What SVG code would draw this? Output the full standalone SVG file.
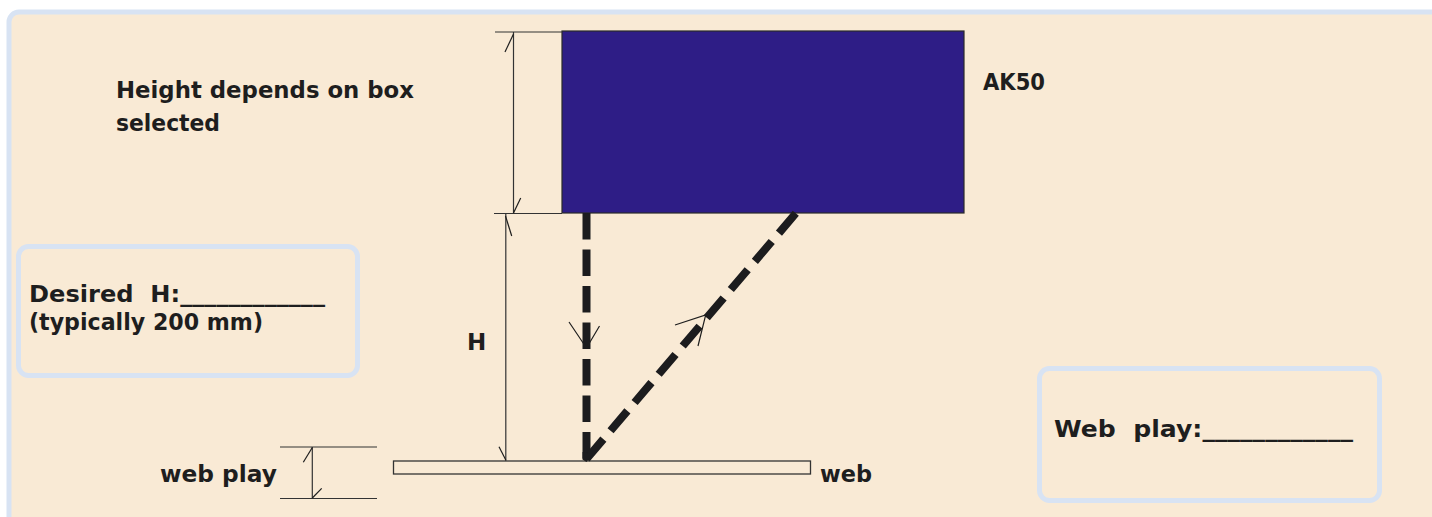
<svg xmlns="http://www.w3.org/2000/svg" width="1432" height="517" viewBox="0 0 1432 517">
  <defs>
    <style>
      .t { font-family: "DejaVu Sans", "Liberation Sans", sans-serif; font-weight: bold; font-size: 23px; fill: #1e1e1e; }
      .panel { fill: #f9ead5; stroke: #d8e3f3; stroke-width: 5; }
      .dim { stroke: #333333; stroke-width: 1.2; fill: none; }
      .thin { stroke: #1e1e1e; stroke-width: 1.2; fill: none; }
      .dash { stroke: #1c1c1e; stroke-width: 8; fill: none; stroke-linecap: butt; }
    </style>
  </defs>
  <rect x="0" y="0" width="1432" height="517" fill="#ffffff"/>
  <rect id="frame" x="9" y="12" width="1500" height="600" rx="10" class="panel"/>

  <g id="box-ak50">
    <rect x="562" y="31" width="402" height="182" fill="#2e1d86" stroke="#2a2a2a" stroke-width="1.2"/>
    <text class="t" x="983" y="90" textLength="62" lengthAdjust="spacingAndGlyphs">AK50</text>
  </g>

  <g id="label-height">
    <text class="t" x="116" y="98" textLength="298" lengthAdjust="spacingAndGlyphs">Height depends on box</text>
    <text class="t" x="116" y="131" textLength="104" lengthAdjust="spacingAndGlyphs">selected</text>
  </g>

  <g id="box-desired">
    <rect x="18.5" y="246.5" width="339" height="129" rx="10" class="panel"/>
    <text class="t" x="29" y="302" textLength="296" lengthAdjust="spacingAndGlyphs" xml:space="preserve">Desired  H:____________</text>
    <text class="t" x="29" y="330" textLength="234" lengthAdjust="spacingAndGlyphs">(typically 200 mm)</text>
  </g>

  <g id="box-webplay">
    <rect x="1039.5" y="368.5" width="340" height="132" rx="10" class="panel"/>
    <text class="t" x="1054" y="437" textLength="299" lengthAdjust="spacingAndGlyphs" xml:space="preserve">Web  play:____________</text>
  </g>

  <g id="web">
    <rect x="393.5" y="461" width="417" height="13" fill="#f9ead5" stroke="#333333" stroke-width="1.3"/>
    <text class="t" x="820" y="482" textLength="52" lengthAdjust="spacingAndGlyphs">web</text>
  </g>

  <g id="label-H">
    <text class="t" x="467" y="350">H</text>
  </g>

  <g id="label-webplay">
    <text class="t" x="160" y="482" textLength="117" lengthAdjust="spacingAndGlyphs">web play</text>
  </g>

  <g id="connectors">
    <line class="dim" x1="495" y1="32" x2="562" y2="32"/>
    <line class="dim" x1="494" y1="213.5" x2="562" y2="213.5"/>
    <line class="dim" x1="513.5" y1="32" x2="513.5" y2="213.5"/>
    <line class="thin" x1="513.5" y1="34" x2="505" y2="52"/>
    <line class="thin" x1="513.5" y1="213" x2="520.7" y2="198"/>
    <line class="dim" x1="505.8" y1="213.5" x2="505.8" y2="461"/>
    <line class="thin" x1="505.5" y1="216" x2="511.7" y2="236"/>
    <line class="thin" x1="505.8" y1="460" x2="499" y2="446.7"/>
    <line class="dim" x1="280" y1="447" x2="377" y2="447"/>
    <line class="dim" x1="280" y1="498.5" x2="377" y2="498.5"/>
    <line class="dim" x1="312.3" y1="447" x2="312.3" y2="498.5"/>
    <line class="thin" x1="312.3" y1="447.5" x2="303.3" y2="462.3"/>
    <line class="thin" x1="312.3" y1="498" x2="321.7" y2="488.3"/>
    <path class="dash" d="M586.5,213 L586.5,459" stroke-dasharray="26.5 10"/>
    <path class="dash" d="M586.5,459 L796,213" stroke-dasharray="26 11.1"/>
    <path d="M582.5,452 L582.5,459.5 L586.5,462 L593,454 Z" fill="#1c1c1e"/>
    <polyline class="thin" points="569,322 586.5,348 599.5,326"/>
    <polyline class="thin" points="675,325 705.7,315 698,346"/>
  </g>
</svg>
